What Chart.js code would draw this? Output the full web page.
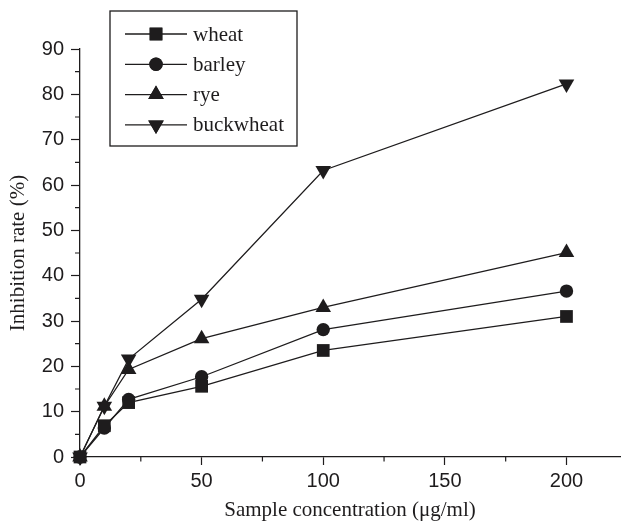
<!DOCTYPE html>
<html>
<head>
<meta charset="utf-8">
<script src="https://cdn.jsdelivr.net/npm/chart.js@4.4.1/dist/chart.umd.min.js"></script>
<style>
  html, body { margin: 0; padding: 0; background: #fff; }
  #wrap { width: 622px; height: 521px; }
</style>
</head>
<body>
<div id="wrap"><canvas id="chart" width="622" height="521"></canvas></div>
<script>
// Values
const concentrations = [0, 10, 20, 50, 100, 200];
const wheat = [0, 6.9, 12.0, 15.6, 23.5, 31.0];
const barley = [0, 6.4, 12.7, 17.7, 28.1, 36.6];
const rye = [0, 11.2, 19.3, 26.1, 33.0, 45.1];
const buckwheat = [0, 11.2, 21.6, 34.8, 63.2, 82.3];
const seriesNames = ['wheat', 'barley', 'rye', 'buckwheat'];

const INK = '#1e1c1d';
const SERIF = "'Liberation Serif', 'Times New Roman', serif";
const SANS = "'Liberation Sans', Arial, sans-serif";

// marker style per series
const markers = [
  { style: 'rect', radius: 9, rotation: 0 },
  { style: 'circle', radius: 6.7, rotation: 0 },
  { style: 'triangle', radius: 9, rotation: 0 },
  { style: 'triangle', radius: 9, rotation: 180 }
];

// the figure's axis runs right to the edge, so don't let the big markers
// push the plot area inwards (markers are drawn unclipped instead)
Chart.registry.getController('line').prototype.getMaxOverflow = function () { return 0; };

function toPoints(values) {
  return concentrations.map((c, i) => ({ x: c, y: values[i] }));
}

const datasets = [wheat, barley, rye, buckwheat].map((values, i) => ({
  label: seriesNames[i],
  data: toPoints(values),
  borderColor: INK,
  borderWidth: 1.3,
  backgroundColor: INK,
  pointStyle: markers[i].style,
  pointRadius: markers[i].radius,
  pointRotation: markers[i].rotation,
  pointBorderWidth: 0,
  pointBackgroundColor: INK,
  clip: false,
  tension: 0
}));

// minor ticks + boxed legend with line-through markers
const extrasPlugin = {
  id: 'extras',
  afterDraw(chart) {
    const ctx = chart.ctx;
    const xs = chart.scales.x;
    const ys = chart.scales.y;
    ctx.save();
    ctx.strokeStyle = INK;
    ctx.lineWidth = 1.2;

    // minor ticks (outward, shorter)
    ctx.beginPath();
    for (let v = 25; v < xs.max; v += 50) {
      const px = xs.getPixelForValue(v);
      ctx.moveTo(px, ys.bottom);
      ctx.lineTo(px, ys.bottom + 4.5);
    }
    for (let v = 5; v < ys.max; v += 10) {
      const py = ys.getPixelForValue(v);
      ctx.moveTo(xs.left, py);
      ctx.lineTo(xs.left - 5, py);
    }
    ctx.stroke();

    // legend box
    const box = { left: 110, top: 11, right: 297, bottom: 146 };
    ctx.lineWidth = 1.3;
    ctx.strokeRect(box.left, box.top, box.right - box.left, box.bottom - box.top);

    ctx.font = '21px ' + SERIF;
    ctx.fillStyle = INK;
    ctx.textBaseline = 'middle';
    ctx.textAlign = 'left';
    chart.data.datasets.forEach((ds, i) => {
      const y = 34 + i * 30.3;
      ctx.beginPath();
      ctx.moveTo(125, y);
      ctx.lineTo(187, y);
      ctx.stroke();
      Chart.helpers.drawPoint(ctx, {
        pointStyle: ds.pointStyle,
        radius: ds.pointRadius,
        rotation: ds.pointRotation,
        borderWidth: 0
      }, 156, y);
      ctx.fillStyle = INK;
      ctx.fill();
      ctx.fillText(ds.label, 193, y + 1);
    });
    ctx.restore();
  }
};

new Chart(document.getElementById('chart'), {
  type: 'line',
  data: { datasets: datasets },
  plugins: [extrasPlugin],
  options: {
    responsive: false,
    animation: false,
    layout: { padding: { top: 49, right: 2, left: 0, bottom: 0 } },
    plugins: {
      legend: { display: false },
      tooltip: { enabled: false }
    },
    scales: {
      x: {
        type: 'linear',
        min: 0,
        max: 222,
        afterFit: (scale) => { scale.height = 64; },
        border: { color: INK, width: 1.3 },
        grid: {
          display: true,
          drawOnChartArea: false,
          tickLength: 8,
          tickWidth: 1.2,
          tickColor: (c) => (c.tick && c.tick.value % 50 === 0 ? INK : 'rgba(0,0,0,0)')
        },
        ticks: {
          stepSize: 25,
          includeBounds: false,
          autoSkip: false,
          maxRotation: 0,
          padding: 4,
          color: INK,
          font: { family: SANS, size: 20 },
          callback: (v) => (v % 50 === 0 ? String(v) : '')
        },
        title: {
          display: true,
          text: 'Sample concentration (\u03bcg/ml)',
          color: INK,
          font: { family: SERIF, size: 21, lineHeight: 1.0 },
          padding: { top: 0, bottom: 0 }
        }
      },
      y: {
        min: 0,
        max: 90,
        afterFit: (scale) => { scale.width = 80; },
        border: { color: INK, width: 1.3 },
        grid: {
          display: true,
          drawOnChartArea: false,
          tickLength: 9,
          tickWidth: 1.2,
          tickColor: (c) => (c.tick && c.tick.value % 10 === 0 ? INK : 'rgba(0,0,0,0)')
        },
        ticks: {
          stepSize: 5,
          autoSkip: false,
          padding: 7,
          color: INK,
          font: { family: SANS, size: 20 },
          callback: (v) => (v % 10 === 0 ? String(v) : '')
        },
        title: {
          display: true,
          text: 'Inhibition rate (%)',
          color: INK,
          font: { family: SERIF, size: 21 },
          padding: { top: 6, bottom: 0 }
        }
      }
    }
  }
});
</script>
</body>
</html>
